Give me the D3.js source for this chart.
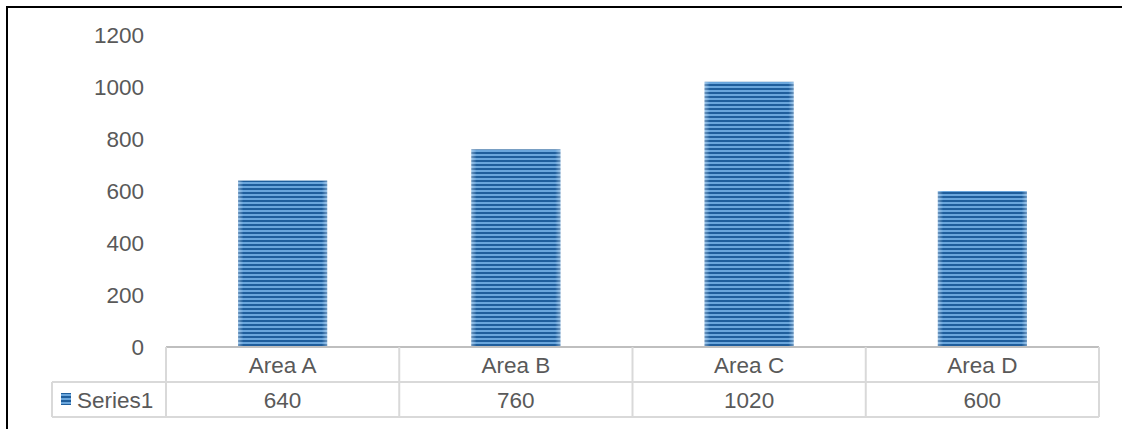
<!DOCTYPE html>
<html><head><meta charset="utf-8">
<script src="https://cdn.jsdelivr.net/npm/d3@7"></script>
<style>html,body{margin:0;padding:0;background:#fff;}svg{display:block;}</style>
</head><body>
<script>
const categories = ["Area A", "Area B", "Area C", "Area D"];
const seriesName = "Series1";
const values = [640, 760, 1020, 600];
const yTicks = [0, 200, 400, 600, 800, 1000, 1200];

(function () {
const W = 1122, H = 429;
const svg = d3.select("body").append("svg").attr("width", W).attr("height", H);
const font = "'Liberation Sans', Arial, sans-serif";
const fs = 22.5;
const textColor = "#595959";
const gridColor = "#d9d9d9";

// pattern
const defs = svg.append("defs");
const pat = defs.append("pattern").attr("id", "stripes").attr("patternUnits", "userSpaceOnUse")
  .attr("width", 8).attr("height", 4);
pat.append("rect").attr("width", 8).attr("height", 4).attr("fill", "#6aa6dc");
pat.append("rect").attr("y", 0).attr("width", 8).attr("height", 2).attr("fill", "#1f5e9c");
const grad = defs.append("linearGradient").attr("id", "edge").attr("x1", 0).attr("x2", 1);
grad.append("stop").attr("offset", "0").attr("stop-color", "#fff").attr("stop-opacity", 0.35);
grad.append("stop").attr("offset", "0.06").attr("stop-color", "#fff").attr("stop-opacity", 0);
grad.append("stop").attr("offset", "0.94").attr("stop-color", "#fff").attr("stop-opacity", 0);
grad.append("stop").attr("offset", "1").attr("stop-color", "#fff").attr("stop-opacity", 0.35);

// frame
svg.append("line").attr("x1", 7).attr("x2", W).attr("y1", 7).attr("y2", 7).attr("stroke", "#000").attr("stroke-width", 2);
svg.append("line").attr("x1", 7).attr("x2", 7).attr("y1", 6).attr("y2", H).attr("stroke", "#000").attr("stroke-width", 2);

const pLeft = 166, pRight = 1099, pTop = 35, pBottom = 347;
const x = d3.scaleBand().domain(categories).range([pLeft, pRight]).paddingInner(0.618).paddingOuter(0.309);
const xCell = d3.scaleBand().domain(categories).range([pLeft, pRight]);
const y = d3.scaleLinear().domain([0, 1200]).range([pBottom, pTop]);

// y axis labels
const yAxis = d3.axisLeft(y).tickValues(yTicks).tickSize(0).tickPadding(0).tickFormat(d3.format("d"));
const ga = svg.append("g").attr("transform", `translate(144,0)`).call(yAxis);
ga.select(".domain").remove();
ga.selectAll("text").attr("font-family", font).attr("font-size", fs).attr("fill", textColor).attr("dy", "0.34em");

// bars
svg.append("g").selectAll("rect").data(values).join("rect")
  .attr("x", (d, i) => x(categories[i])).attr("width", x.bandwidth())
  .attr("y", d => y(d)).attr("height", d => y(0) - y(d)).attr("fill", "url(#stripes)");
svg.append("g").selectAll("rect").data(values).join("rect")
  .attr("x", (d, i) => x(categories[i])).attr("width", x.bandwidth())
  .attr("y", d => y(d)).attr("height", d => y(0) - y(d)).attr("fill", "url(#edge)");

// data table
const row1 = pBottom, row2 = 382, row3 = 417, tableLeft = 52;
const tg = svg.append("g").attr("stroke", gridColor).attr("stroke-width", 2).attr("fill", "none");
tg.append("line").attr("x1", pLeft).attr("x2", pRight).attr("y1", row1).attr("y2", row1).attr("stroke", "#bfbfbf");
tg.append("line").attr("x1", tableLeft).attr("x2", pRight).attr("y1", row2).attr("y2", row2);
tg.append("line").attr("x1", tableLeft).attr("x2", pRight).attr("y1", row3).attr("y2", row3);
tg.append("line").attr("x1", tableLeft).attr("x2", tableLeft).attr("y1", row2).attr("y2", row3);
const bounds = categories.map(c => xCell(c)).concat([pRight]);
tg.selectAll("line.v").data(bounds).join("line").attr("class", "v")
  .attr("x1", d => d).attr("x2", d => d).attr("y1", row1).attr("y2", row3);

svg.append("g").selectAll("text").data(categories).join("text")
  .attr("x", d => xCell(d) + xCell.bandwidth() / 2).attr("y", (row1 + row2) / 2).attr("dy", "0.36em")
  .attr("text-anchor", "middle").attr("font-family", font).attr("font-size", fs).attr("fill", textColor).text(d => d);
svg.append("g").selectAll("text").data(values).join("text")
  .attr("x", (d, i) => xCell(categories[i]) + xCell.bandwidth() / 2).attr("y", (row2 + row3) / 2).attr("dy", "0.36em")
  .attr("text-anchor", "middle").attr("font-family", font).attr("font-size", fs).attr("fill", textColor).text(d => d);

svg.append("rect").attr("x", 61).attr("y", 393).attr("width", 10).attr("height", 12).attr("fill", "url(#stripes)");
svg.append("text").attr("x", 77).attr("y", (row2 + row3) / 2).attr("dy", "0.36em")
  .attr("font-family", font).attr("font-size", fs).attr("fill", textColor).text(seriesName);
})();
</script>
</body></html>
